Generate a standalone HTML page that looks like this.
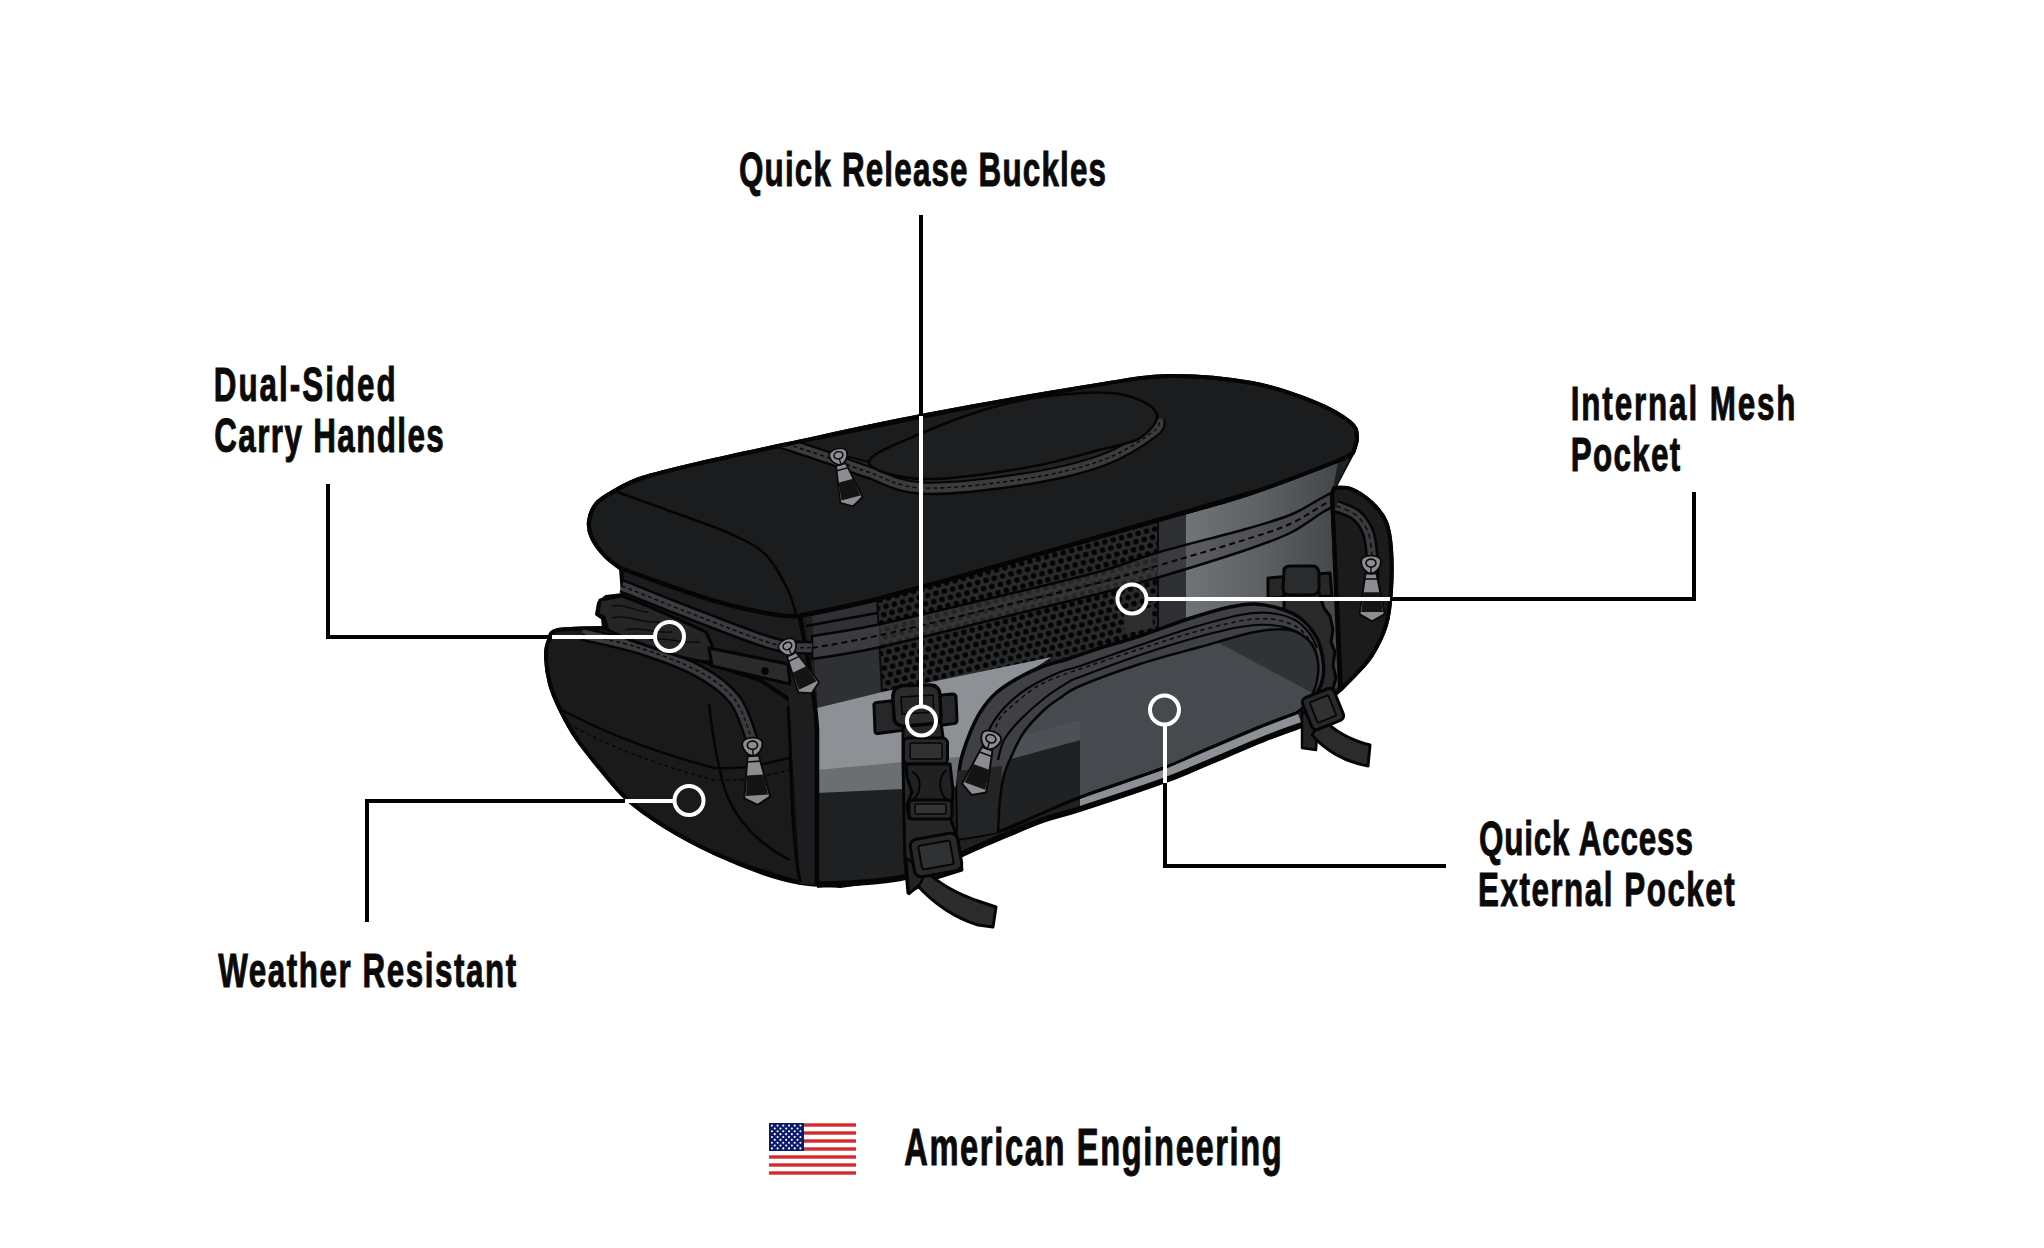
<!DOCTYPE html>
<html><head><meta charset="utf-8">
<style>
html,body{margin:0;padding:0;background:#fff;width:2044px;height:1248px;overflow:hidden}
svg{display:block}
.t{font-family:"Liberation Sans",sans-serif;font-weight:bold;fill:#0a0a0a;stroke:#0a0a0a;stroke-width:1.2px}
</style></head><body>
<svg width="2044" height="1248" viewBox="0 0 2044 1248">
<rect width="2044" height="1248" fill="#fff"/>
<g font-family="Liberation Sans" font-weight="bold" fill="#0a0a0a" stroke="#0a0a0a" stroke-width="1">
<text transform="translate(739.00,185.8) scale(0.64,1)" font-size="49" textLength="573.4" lengthAdjust="spacing">Quick Release Buckles</text>
<text transform="translate(213.80,400.8) scale(0.64,1)" font-size="49" textLength="284.1" lengthAdjust="spacing">Dual-Sided</text>
<text transform="translate(214.30,452.0) scale(0.64,1)" font-size="49" textLength="358.4" lengthAdjust="spacing">Carry Handles</text>
<text transform="translate(1570.70,419.8) scale(0.64,1)" font-size="49" textLength="351.2" lengthAdjust="spacing">Internal Mesh</text>
<text transform="translate(1570.70,470.7) scale(0.64,1)" font-size="49" textLength="171.2" lengthAdjust="spacing">Pocket</text>
<text transform="translate(1479.00,855.0) scale(0.64,1)" font-size="49" textLength="334.1" lengthAdjust="spacing">Quick Access</text>
<text transform="translate(1478.00,905.9) scale(0.64,1)" font-size="49" textLength="401.2" lengthAdjust="spacing">External Pocket</text>
<text transform="translate(218.30,986.9) scale(0.64,1)" font-size="49" textLength="465.3" lengthAdjust="spacing">Weather Resistant</text>
<text transform="translate(904.20,1165.1) scale(0.64,1)" font-size="51" textLength="590.0" lengthAdjust="spacing">American Engineering</text>
</g>
<g id="flag">
<rect x="769" y="1123" width="87" height="52" fill="#fff"/>
<rect x="769" y="1123.30" width="87" height="3.40" fill="#d42b2f"/>
<rect x="769" y="1131.30" width="87" height="3.40" fill="#d42b2f"/>
<rect x="769" y="1139.30" width="87" height="3.40" fill="#d42b2f"/>
<rect x="769" y="1147.30" width="87" height="3.40" fill="#d42b2f"/>
<rect x="769" y="1155.30" width="87" height="3.40" fill="#d42b2f"/>
<rect x="769" y="1163.30" width="87" height="3.40" fill="#d42b2f"/>
<rect x="769" y="1171.30" width="87" height="3.40" fill="#d42b2f"/>
<rect x="769" y="1123" width="35" height="28.00" fill="#0c1a6c"/>
<circle cx="771.90" cy="1125.60" r="1.05" fill="#fff"/>
<circle cx="777.60" cy="1125.60" r="1.05" fill="#fff"/>
<circle cx="783.30" cy="1125.60" r="1.05" fill="#fff"/>
<circle cx="789.00" cy="1125.60" r="1.05" fill="#fff"/>
<circle cx="794.70" cy="1125.60" r="1.05" fill="#fff"/>
<circle cx="800.40" cy="1125.60" r="1.05" fill="#fff"/>
<circle cx="774.75" cy="1128.45" r="1.05" fill="#fff"/>
<circle cx="780.45" cy="1128.45" r="1.05" fill="#fff"/>
<circle cx="786.15" cy="1128.45" r="1.05" fill="#fff"/>
<circle cx="791.85" cy="1128.45" r="1.05" fill="#fff"/>
<circle cx="797.55" cy="1128.45" r="1.05" fill="#fff"/>
<circle cx="771.90" cy="1131.30" r="1.05" fill="#fff"/>
<circle cx="777.60" cy="1131.30" r="1.05" fill="#fff"/>
<circle cx="783.30" cy="1131.30" r="1.05" fill="#fff"/>
<circle cx="789.00" cy="1131.30" r="1.05" fill="#fff"/>
<circle cx="794.70" cy="1131.30" r="1.05" fill="#fff"/>
<circle cx="800.40" cy="1131.30" r="1.05" fill="#fff"/>
<circle cx="774.75" cy="1134.15" r="1.05" fill="#fff"/>
<circle cx="780.45" cy="1134.15" r="1.05" fill="#fff"/>
<circle cx="786.15" cy="1134.15" r="1.05" fill="#fff"/>
<circle cx="791.85" cy="1134.15" r="1.05" fill="#fff"/>
<circle cx="797.55" cy="1134.15" r="1.05" fill="#fff"/>
<circle cx="771.90" cy="1137.00" r="1.05" fill="#fff"/>
<circle cx="777.60" cy="1137.00" r="1.05" fill="#fff"/>
<circle cx="783.30" cy="1137.00" r="1.05" fill="#fff"/>
<circle cx="789.00" cy="1137.00" r="1.05" fill="#fff"/>
<circle cx="794.70" cy="1137.00" r="1.05" fill="#fff"/>
<circle cx="800.40" cy="1137.00" r="1.05" fill="#fff"/>
<circle cx="774.75" cy="1139.85" r="1.05" fill="#fff"/>
<circle cx="780.45" cy="1139.85" r="1.05" fill="#fff"/>
<circle cx="786.15" cy="1139.85" r="1.05" fill="#fff"/>
<circle cx="791.85" cy="1139.85" r="1.05" fill="#fff"/>
<circle cx="797.55" cy="1139.85" r="1.05" fill="#fff"/>
<circle cx="771.90" cy="1142.70" r="1.05" fill="#fff"/>
<circle cx="777.60" cy="1142.70" r="1.05" fill="#fff"/>
<circle cx="783.30" cy="1142.70" r="1.05" fill="#fff"/>
<circle cx="789.00" cy="1142.70" r="1.05" fill="#fff"/>
<circle cx="794.70" cy="1142.70" r="1.05" fill="#fff"/>
<circle cx="800.40" cy="1142.70" r="1.05" fill="#fff"/>
<circle cx="774.75" cy="1145.55" r="1.05" fill="#fff"/>
<circle cx="780.45" cy="1145.55" r="1.05" fill="#fff"/>
<circle cx="786.15" cy="1145.55" r="1.05" fill="#fff"/>
<circle cx="791.85" cy="1145.55" r="1.05" fill="#fff"/>
<circle cx="797.55" cy="1145.55" r="1.05" fill="#fff"/>
<circle cx="771.90" cy="1148.40" r="1.05" fill="#fff"/>
<circle cx="777.60" cy="1148.40" r="1.05" fill="#fff"/>
<circle cx="783.30" cy="1148.40" r="1.05" fill="#fff"/>
<circle cx="789.00" cy="1148.40" r="1.05" fill="#fff"/>
<circle cx="794.70" cy="1148.40" r="1.05" fill="#fff"/>
<circle cx="800.40" cy="1148.40" r="1.05" fill="#fff"/>
</g>
<g id="bag">
<defs>
<pattern id="mesh" x="0" y="0" width="8.6" height="14.9" patternUnits="userSpaceOnUse" patternTransform="translate(880,600) rotate(-14.5)">
<rect width="8.6" height="14.9" fill="#292a2c"/>
<circle cx="0" cy="0" r="2.85" fill="#040404"/><circle cx="8.6" cy="0" r="2.85" fill="#040404"/>
<circle cx="0" cy="14.9" r="2.85" fill="#040404"/><circle cx="8.6" cy="14.9" r="2.85" fill="#040404"/>
<circle cx="4.3" cy="7.45" r="2.85" fill="#040404"/>
</pattern>
<linearGradient id="rgrad" x1="1186" y1="0" x2="1335" y2="0" gradientUnits="userSpaceOnUse">
<stop offset="0" stop-color="#717477"/>
<stop offset="0.5" stop-color="#5e6164"/>
<stop offset="1" stop-color="#45484b"/>
</linearGradient>
<linearGradient id="pgrad" x1="1000" y1="0" x2="1320" y2="0" gradientUnits="userSpaceOnUse">
<stop offset="0" stop-color="#484b4f"/>
<stop offset="1" stop-color="#44474b"/>
</linearGradient>
</defs>
<path d="M621,568 L623,595 L606,597 L599,603 L597,614 L603,618 L604,628 C596.3,628.3 567.2,628.0 558.0,630.0 C548.8,632.0 551.0,635.5 549.0,640.0 C547.0,644.5 545.8,649.7 546.0,657.0 C546.2,664.3 547.7,675.3 550.0,684.0 C552.3,692.7 555.5,699.8 560.0,709.0 C564.5,718.2 570.0,728.7 577.0,739.0 C584.0,749.3 593.7,761.0 602.0,771.0 C610.3,781.0 616.7,789.8 627.0,799.0 C637.3,808.2 649.5,817.0 664.0,826.0 C678.5,835.0 697.5,845.2 714.0,853.0 C730.5,860.8 748.5,868.0 763.0,873.0 C777.5,878.0 788.2,880.8 801.0,883.0 C813.8,885.2 833.5,885.5 840.0,886.0 L905,877 L980,846 L1040,821 L1080,809 L1163,781 L1200,766 L1264,739 L1302,725 L1340,690 C1342.7,687.3 1350.7,679.8 1356.0,674.0 C1361.3,668.2 1367.0,663.2 1372.0,655.0 C1377.0,646.8 1382.8,635.8 1386.0,625.0 C1389.2,614.2 1390.2,602.7 1391.0,590.0 C1391.8,577.3 1391.8,560.3 1391.0,549.0 C1390.2,537.7 1389.2,529.7 1386.0,522.0 C1382.8,514.3 1377.8,508.5 1372.0,503.0 C1366.2,497.5 1357.3,491.5 1351.0,489.0 C1344.7,486.5 1336.8,488.2 1334.0,488.0 L1352,454 Z" fill="#1c1c1e" stroke="#050505" stroke-width="4" stroke-linejoin="round"/>
<path d="M817,690 L817,884 L905,877 L980,846 L1040,821 L1080,809 L1163,781 L1200,766 L1264,739 L1302,725 L1341,686 L1332,494 L1352,455 C1200,505 1000,560 805,613 Z" fill="#1f2022"/>
<path d="M812,612 L1158,518 L1158,625 L1050,656 L882,692 L817,708 Z" fill="#2e3033"/>
<path d="M1158,518 L1186,510 L1186,650 L1158,655 Z" fill="#2e3033"/>
<path d="M1186,510 C1240,496 1300,478 1338,462 L1332,494 L1341,686 L1300,700 L1186,650 Z" fill="url(#rgrad)"/>
<path d="M877,585 L1158,505 L1158,645 L1050,660 L882,692 Z" fill="url(#mesh)"/>
<path d="M877,585 L877,598 L882,692 L1050,660 M1158,505 L1158,645" fill="none" stroke="#0a0a0a" stroke-width="2"/>
<path d="M1124,614 L1152,607 L1153,628 L1125,633 Z" fill="#2c2d2f"/>
<path d="M817,708 L882,692 L1052,657 L1000,690 L968,768 L817,770 Z" fill="#8d9094"/>
<path d="M817,770 L968,756 L966,786 L817,793 Z" fill="#6c6f72"/>
<clipPath id="nomesh"><path d="M0,0 H1186 V1248 H0 Z M877,585 L1158,505 L1158,645 L1050,660 L882,692 Z" clip-rule="evenodd"/></clipPath>
<clipPath id="inmesh"><path d="M877,585 L1158,505 L1158,645 L1050,660 L882,692 Z"/></clipPath>
<clipPath id="rpanel"><rect x="1186" y="0" width="300" height="1248"/></clipPath>
<path d="M812.0,636.0 C822.7,634.2 844.7,631.7 876.0,625.0 C907.3,618.3 963.0,604.8 1000.0,596.0 C1037.0,587.2 1071.4,579.3 1098.0,572.0 C1124.6,564.7 1134.9,559.2 1159.6,552.0 C1184.3,544.8 1224.3,535.2 1246.0,529.0 C1267.7,522.8 1278.0,519.8 1290.0,515.0 C1302.0,510.2 1311.2,503.7 1318.0,500.0 C1324.8,496.3 1328.8,494.2 1331.0,493.0 L1333,507 C1331.3,507.8 1330.2,507.7 1323.0,512.0 C1315.8,516.3 1302.8,526.7 1290.0,533.0 C1277.2,539.3 1267.7,542.7 1246.0,550.0 C1224.3,557.3 1184.3,569.7 1159.6,577.0 C1134.9,584.3 1124.6,587.2 1098.0,594.0 C1071.4,600.8 1037.0,609.0 1000.0,618.0 C963.0,627.0 907.3,641.2 876.0,648.0 C844.7,654.8 822.7,657.2 812.0,659.0 Z" fill="#3a3b3e" clip-path="url(#nomesh)"/>
<path d="M812.0,636.0 C822.7,634.2 844.7,631.7 876.0,625.0 C907.3,618.3 963.0,604.8 1000.0,596.0 C1037.0,587.2 1071.4,579.3 1098.0,572.0 C1124.6,564.7 1134.9,559.2 1159.6,552.0 C1184.3,544.8 1224.3,535.2 1246.0,529.0 C1267.7,522.8 1278.0,519.8 1290.0,515.0 C1302.0,510.2 1311.2,503.7 1318.0,500.0 C1324.8,496.3 1328.8,494.2 1331.0,493.0 L1333,507 C1331.3,507.8 1330.2,507.7 1323.0,512.0 C1315.8,516.3 1302.8,526.7 1290.0,533.0 C1277.2,539.3 1267.7,542.7 1246.0,550.0 C1224.3,557.3 1184.3,569.7 1159.6,577.0 C1134.9,584.3 1124.6,587.2 1098.0,594.0 C1071.4,600.8 1037.0,609.0 1000.0,618.0 C963.0,627.0 907.3,641.2 876.0,648.0 C844.7,654.8 822.7,657.2 812.0,659.0 Z" fill="#3c3d40" fill-opacity="0.6" clip-path="url(#inmesh)"/>
<path d="M812.0,636.0 C822.7,634.2 844.7,631.7 876.0,625.0 C907.3,618.3 963.0,604.8 1000.0,596.0 C1037.0,587.2 1071.4,579.3 1098.0,572.0 C1124.6,564.7 1134.9,559.2 1159.6,552.0 C1184.3,544.8 1224.3,535.2 1246.0,529.0 C1267.7,522.8 1278.0,519.8 1290.0,515.0 C1302.0,510.2 1311.2,503.7 1318.0,500.0 C1324.8,496.3 1328.8,494.2 1331.0,493.0 L1333,507 C1331.3,507.8 1330.2,507.7 1323.0,512.0 C1315.8,516.3 1302.8,526.7 1290.0,533.0 C1277.2,539.3 1267.7,542.7 1246.0,550.0 C1224.3,557.3 1184.3,569.7 1159.6,577.0 C1134.9,584.3 1124.6,587.2 1098.0,594.0 C1071.4,600.8 1037.0,609.0 1000.0,618.0 C963.0,627.0 907.3,641.2 876.0,648.0 C844.7,654.8 822.7,657.2 812.0,659.0 Z" fill="#303134" fill-opacity="0.35" clip-path="url(#rpanel)"/>
<path d="M812.0,636.0 C822.7,634.2 844.7,631.7 876.0,625.0 C907.3,618.3 963.0,604.8 1000.0,596.0 C1037.0,587.2 1071.4,579.3 1098.0,572.0 C1124.6,564.7 1134.9,559.2 1159.6,552.0 C1184.3,544.8 1224.3,535.2 1246.0,529.0 C1267.7,522.8 1278.0,519.8 1290.0,515.0 C1302.0,510.2 1311.2,503.7 1318.0,500.0 C1324.8,496.3 1328.8,494.2 1331.0,493.0 L1333,507 C1331.3,507.8 1330.2,507.7 1323.0,512.0 C1315.8,516.3 1302.8,526.7 1290.0,533.0 C1277.2,539.3 1267.7,542.7 1246.0,550.0 C1224.3,557.3 1184.3,569.7 1159.6,577.0 C1134.9,584.3 1124.6,587.2 1098.0,594.0 C1071.4,600.8 1037.0,609.0 1000.0,618.0 C963.0,627.0 907.3,641.2 876.0,648.0 C844.7,654.8 822.7,657.2 812.0,659.0 Z" fill="none" stroke="#050505" stroke-width="2.5"/>
<path d="M812.0,648.0 C822.7,646.0 844.7,642.9 876.0,636.0 C907.3,629.1 963.0,615.3 1000.0,606.5 C1037.0,597.7 1073.0,589.4 1098.0,583.0 C1123.0,576.6 1125.3,575.3 1150.0,568.0 C1174.7,560.7 1222.7,546.7 1246.0,539.4 C1269.3,532.1 1277.2,529.7 1290.0,524.0 C1302.8,518.3 1316.2,508.8 1323.0,505.0 C1329.8,501.2 1329.7,501.7 1331.0,501.0" fill="none" stroke="#060606" stroke-width="2" stroke-dasharray="6 4"/>
<path d="M806,626 L877,613" stroke="#050505" stroke-width="2.5"/>
<path d="M1332,494 L1334,488 C1336.8,488.2 1344.7,486.5 1351.0,489.0 C1357.3,491.5 1366.2,497.5 1372.0,503.0 C1377.8,508.5 1382.8,514.3 1386.0,522.0 C1389.2,529.7 1390.2,537.7 1391.0,549.0 C1391.8,560.3 1391.8,577.3 1391.0,590.0 C1390.2,602.7 1389.2,614.2 1386.0,625.0 C1382.8,635.8 1377.0,646.8 1372.0,655.0 C1367.0,663.2 1361.3,668.2 1356.0,674.0 C1350.7,679.8 1342.7,687.3 1340.0,690.0 Z" fill="#1b1b1c" stroke="#050505" stroke-width="4" stroke-linejoin="round"/>
<path d="M1336.0,506.0 C1339.3,507.5 1350.7,510.7 1356.0,515.0 C1361.3,519.3 1365.3,525.2 1368.0,532.0 C1370.7,538.8 1371.2,548.0 1372.0,556.0 C1372.8,564.0 1372.8,576.0 1373.0,580.0" fill="none" stroke="#050505" stroke-width="13"/>
<path d="M1336.0,506.0 C1339.3,507.5 1350.7,510.7 1356.0,515.0 C1361.3,519.3 1365.3,525.2 1368.0,532.0 C1370.7,538.8 1371.2,548.0 1372.0,556.0 C1372.8,564.0 1372.8,576.0 1373.0,580.0" fill="none" stroke="#3a3b3e" stroke-width="8"/>
<path d="M1336.0,506.0 C1339.3,507.5 1350.7,510.7 1356.0,515.0 C1361.3,519.3 1365.3,525.2 1368.0,532.0 C1370.7,538.8 1371.2,548.0 1372.0,556.0 C1372.8,564.0 1372.8,576.0 1373.0,580.0" fill="none" stroke="#0c0c0c" stroke-width="1.5" stroke-dasharray="5 4"/>
<path d="M1332,494 L1341,688" stroke="#050505" stroke-width="4"/>
<clipPath id="lpclip"><path d="M790,700 L801,883 C754.8,869.7 730.5,860.8 714.0,853.0 C697.5,845.2 678.5,835.0 664.0,826.0 C649.5,817.0 637.3,808.2 627.0,799.0 C616.7,789.8 610.3,781.0 602.0,771.0 C593.7,761.0 584.0,749.3 577.0,739.0 C570.0,728.7 564.5,718.2 560.0,709.0 C555.5,699.8 552.3,692.7 550.0,684.0 C547.7,675.3 546.2,664.3 546.0,657.0 C545.8,649.7 547.0,644.5 549.0,640.0 C551.0,635.5 548.8,632.0 558.0,630.0 C567.2,628.0 596.3,628.3 604.0,628.0 L700,660 L760,680 Z"/></clipPath>
<path d="M790,700 L801,883 C754.8,869.7 730.5,860.8 714.0,853.0 C697.5,845.2 678.5,835.0 664.0,826.0 C649.5,817.0 637.3,808.2 627.0,799.0 C616.7,789.8 610.3,781.0 602.0,771.0 C593.7,761.0 584.0,749.3 577.0,739.0 C570.0,728.7 564.5,718.2 560.0,709.0 C555.5,699.8 552.3,692.7 550.0,684.0 C547.7,675.3 546.2,664.3 546.0,657.0 C545.8,649.7 547.0,644.5 549.0,640.0 C551.0,635.5 548.8,632.0 558.0,630.0 C567.2,628.0 596.3,628.3 604.0,628.0 L700,660 L760,680 Z" fill="#1a1a1b" stroke="#050505" stroke-width="4" stroke-linejoin="round"/>
<path d="M788,690 L817,690 L817,885 L800,884 Z" fill="#1d1d1f"/>
<path d="M788,706 C792,760 790,830 800,882" fill="none" stroke="#050505" stroke-width="3"/>
<path d="M800,617 C806,650 815,690 817,730 L817,885" fill="none" stroke="#050505" stroke-width="4.5"/>
<path d="M709,704 C712,730 716,760 725,790 C735,820 760,845 790,860" fill="none" stroke="#050505" stroke-width="2.5"/>
<g clip-path="url(#lpclip)">
<path d="M552,705 C600,730 640,748 714,768 C750,770 770,762 790,758" fill="none" stroke="#050505" stroke-width="2.5"/>
<path d="M556,717 C600,742 640,760 714,780 C750,782 770,774 790,770" fill="none" stroke="#050505" stroke-width="1.3" stroke-dasharray="4 3"/>
</g>
<path d="M582.0,634.0 C591.7,636.3 620.3,641.7 640.0,648.0 C659.7,654.3 684.2,663.3 700.0,672.0 C715.8,680.7 726.3,688.7 735.0,700.0 C743.7,711.3 749.2,733.3 752.0,740.0" fill="none" stroke="#050505" stroke-width="14"/>
<path d="M582.0,634.0 C591.7,636.3 620.3,641.7 640.0,648.0 C659.7,654.3 684.2,663.3 700.0,672.0 C715.8,680.7 726.3,688.7 735.0,700.0 C743.7,711.3 749.2,733.3 752.0,740.0" fill="none" stroke="#3a3b3e" stroke-width="9"/>
<path d="M582.0,634.0 C591.7,636.3 620.3,641.7 640.0,648.0 C659.7,654.3 684.2,663.3 700.0,672.0 C715.8,680.7 726.3,688.7 735.0,700.0 C743.7,711.3 749.2,733.3 752.0,740.0" fill="none" stroke="#0a0a0a" stroke-width="1.4" stroke-dasharray="4 3"/>
<path d="M600,600 L622,596 C650,606 680,620 706,632 L712,645 L711,662 C690,662 660,650 630,640 L608,630 L604,617 L598,614 Z" fill="#252527" stroke="#050505" stroke-width="3" stroke-linejoin="round"/>
<path d="M612,606 C625,603 635,612 648,612 M612,618 C630,614 640,624 660,622 M625,630 C640,626 655,634 672,632 M650,640 C665,636 680,644 700,642" fill="none" stroke="#0a0a0a" stroke-width="1.5"/>
<path d="M709,648 L788,664 L790,684 L712,666 Z" fill="#2a2a2c" stroke="#050505" stroke-width="3" stroke-linejoin="round"/>
<circle cx="765" cy="671" r="3.8" fill="#050505"/>
<path d="M622.0,586.0 C635.0,591.2 674.7,607.3 700.0,617.0 C725.3,626.7 755.3,638.8 774.0,644.0 C792.7,649.2 805.7,647.3 812.0,648.0" fill="none" stroke="#050505" stroke-width="14"/>
<path d="M622.0,586.0 C635.0,591.2 674.7,607.3 700.0,617.0 C725.3,626.7 755.3,638.8 774.0,644.0 C792.7,649.2 805.7,647.3 812.0,648.0" fill="none" stroke="#3a3b3e" stroke-width="9"/>
<path d="M622.0,586.0 C635.0,591.2 674.7,607.3 700.0,617.0 C725.3,626.7 755.3,638.8 774.0,644.0 C792.7,649.2 805.7,647.3 812.0,648.0" fill="none" stroke="#0a0a0a" stroke-width="1.4" stroke-dasharray="4 3"/>
<clipPath id="lidclip"><path d="M620.0,568.0 C617.5,566.0 609.7,561.0 605.0,556.0 C600.3,551.0 594.7,543.8 592.0,538.0 C589.3,532.2 588.3,526.7 589.0,521.0 C589.7,515.3 592.3,508.7 596.0,504.0 C599.7,499.3 603.3,497.3 611.0,493.0 C618.7,488.7 626.3,483.2 642.0,478.0 C657.7,472.8 680.7,467.7 705.0,462.0 C729.3,456.3 752.0,451.7 788.0,444.0 C824.0,436.3 871.5,425.5 921.0,416.0 C970.5,406.5 1043.8,393.7 1085.0,387.0 C1126.2,380.3 1140.2,376.7 1168.0,376.0 C1195.8,375.3 1227.7,378.7 1252.0,383.0 C1276.3,387.3 1297.7,395.5 1314.0,402.0 C1330.3,408.5 1342.8,416.2 1350.0,422.0 C1357.2,427.8 1356.5,431.8 1357.0,437.0 C1357.5,442.2 1353.7,450.3 1353.0,453.0 C1350.0,454.5 1352.2,455.2 1335.0,462.0 C1317.8,468.8 1279.3,483.8 1250.0,493.5 C1220.7,503.2 1196.7,509.1 1159.0,520.0 C1121.3,530.9 1070.8,545.4 1024.0,558.6 C977.2,571.8 915.3,589.4 878.0,599.0 C840.7,608.6 813.0,613.2 800.0,616.0 C794.2,616.3 779.2,615.7 765.0,613.0 C750.8,610.3 731.8,605.8 715.0,601.0 C698.2,596.2 679.8,589.5 664.0,584.0 C648.2,578.5 627.3,570.7 620.0,568.0 Z"/></clipPath>
<path d="M620.0,568.0 C617.5,566.0 609.7,561.0 605.0,556.0 C600.3,551.0 594.7,543.8 592.0,538.0 C589.3,532.2 588.3,526.7 589.0,521.0 C589.7,515.3 592.3,508.7 596.0,504.0 C599.7,499.3 603.3,497.3 611.0,493.0 C618.7,488.7 626.3,483.2 642.0,478.0 C657.7,472.8 680.7,467.7 705.0,462.0 C729.3,456.3 752.0,451.7 788.0,444.0 C824.0,436.3 871.5,425.5 921.0,416.0 C970.5,406.5 1043.8,393.7 1085.0,387.0 C1126.2,380.3 1140.2,376.7 1168.0,376.0 C1195.8,375.3 1227.7,378.7 1252.0,383.0 C1276.3,387.3 1297.7,395.5 1314.0,402.0 C1330.3,408.5 1342.8,416.2 1350.0,422.0 C1357.2,427.8 1356.5,431.8 1357.0,437.0 C1357.5,442.2 1353.7,450.3 1353.0,453.0 C1350.0,454.5 1352.2,455.2 1335.0,462.0 C1317.8,468.8 1279.3,483.8 1250.0,493.5 C1220.7,503.2 1196.7,509.1 1159.0,520.0 C1121.3,530.9 1070.8,545.4 1024.0,558.6 C977.2,571.8 915.3,589.4 878.0,599.0 C840.7,608.6 813.0,613.2 800.0,616.0 C794.2,616.3 779.2,615.7 765.0,613.0 C750.8,610.3 731.8,605.8 715.0,601.0 C698.2,596.2 679.8,589.5 664.0,584.0 C648.2,578.5 627.3,570.7 620.0,568.0 Z" fill="#1b1c1e" stroke="#050505" stroke-width="4" stroke-linejoin="round"/>
<g clip-path="url(#lidclip)">
<path d="M617.0,492.0 C627.7,495.8 662.0,508.0 681.0,515.0 C700.0,522.0 717.0,527.5 731.0,534.0 C745.0,540.5 755.7,545.0 765.0,554.0 C774.3,563.0 781.7,577.5 787.0,588.0 C792.3,598.5 795.3,612.2 797.0,617.0" fill="none" stroke="#050505" stroke-width="2.5"/>
<path d="M1250.0,493.5 C1234.8,497.9 1196.7,509.1 1159.0,520.0 C1121.3,530.9 1070.8,545.4 1024.0,558.6 C977.2,571.8 915.3,589.4 878.0,599.0 C840.7,608.6 813.0,613.2 800.0,616.0" fill="none" stroke="#050505" stroke-width="5"/>
<path d="M790.0,443.0 C796.5,444.5 815.8,448.8 829.0,452.0 C842.2,455.2 862.3,460.3 869.0,462.0 C877.8,464.8 896.2,478.0 922.0,479.0 C947.8,480.0 993.8,473.0 1024.0,468.0 C1054.2,463.0 1083.7,454.0 1103.0,449.0 C1122.3,444.0 1131.0,443.7 1140.0,438.0 C1149.0,432.3 1154.2,418.8 1157.0,415.0 L1160,430 C1159.0,431.2 1163.5,431.0 1154.0,437.0 C1144.5,443.0 1124.7,458.0 1103.0,466.0 C1081.3,474.0 1054.2,480.3 1024.0,485.0 C993.8,489.7 948.0,495.2 922.0,494.0 C896.0,492.8 883.5,483.0 868.0,478.0 C852.5,473.0 842.0,468.5 829.0,464.0 C816.0,459.5 796.5,453.2 790.0,451.0 Z" fill="#222325" stroke="#050505" stroke-width="2"/>
<path d="M780.0,442.0 C781.7,442.5 781.8,442.3 790.0,445.0 C798.2,447.7 816.0,453.5 829.0,458.0 C842.0,462.5 852.5,467.0 868.0,472.0 C883.5,477.0 896.0,486.8 922.0,488.0 C948.0,489.2 993.8,483.7 1024.0,479.0 C1054.2,474.3 1081.3,468.0 1103.0,460.0 C1124.7,452.0 1144.8,438.0 1154.0,431.0 C1163.2,424.0 1157.3,420.2 1158.0,418.0" fill="none" stroke="#050505" stroke-width="13"/>
<path d="M780.0,442.0 C781.7,442.5 781.8,442.3 790.0,445.0 C798.2,447.7 816.0,453.5 829.0,458.0 C842.0,462.5 852.5,467.0 868.0,472.0 C883.5,477.0 896.0,486.8 922.0,488.0 C948.0,489.2 993.8,483.7 1024.0,479.0 C1054.2,474.3 1081.3,468.0 1103.0,460.0 C1124.7,452.0 1144.8,438.0 1154.0,431.0 C1163.2,424.0 1157.3,420.2 1158.0,418.0" fill="none" stroke="#3a3b3d" stroke-width="9"/>
<path d="M780.0,442.0 C781.7,442.5 781.8,442.3 790.0,445.0 C798.2,447.7 816.0,453.5 829.0,458.0 C842.0,462.5 852.5,467.0 868.0,472.0 C883.5,477.0 896.0,486.8 922.0,488.0 C948.0,489.2 993.8,483.7 1024.0,479.0 C1054.2,474.3 1081.3,468.0 1103.0,460.0 C1124.7,452.0 1144.8,438.0 1154.0,431.0 C1163.2,424.0 1157.3,420.2 1158.0,418.0" fill="none" stroke="#0a0a0a" stroke-width="1.4" stroke-dasharray="4 3"/>
<path d="M869.0,462.0 C869.0,454.3 899.3,442.7 922.0,433.0 C944.7,423.3 978.2,410.7 1005.0,404.0 C1031.8,397.3 1061.8,394.2 1083.0,393.0 C1104.2,391.8 1119.7,393.3 1132.0,397.0 C1144.3,400.7 1155.7,408.2 1157.0,415.0 C1158.3,421.8 1149.0,432.3 1140.0,438.0 C1131.0,443.7 1122.3,444.0 1103.0,449.0 C1083.7,454.0 1054.2,463.0 1024.0,468.0 C993.8,473.0 947.8,480.0 922.0,479.0 C896.2,478.0 869.0,469.7 869.0,462.0 Z" fill="#1d1e20" stroke="#050505" stroke-width="2.5"/>
<path d="M817.0,439.0 C841.8,434.0 922.2,417.8 966.0,409.0 C1009.8,400.2 1054.3,390.7 1080.0,386.0 C1105.7,381.3 1113.3,381.8 1120.0,381.0" fill="none" stroke="#050505" stroke-width="2"/>
</g>
<path d="M620.0,568.0 C617.5,566.0 609.7,561.0 605.0,556.0 C600.3,551.0 594.7,543.8 592.0,538.0 C589.3,532.2 588.3,526.7 589.0,521.0 C589.7,515.3 592.3,508.7 596.0,504.0 C599.7,499.3 603.3,497.3 611.0,493.0 C618.7,488.7 626.3,483.2 642.0,478.0 C657.7,472.8 680.7,467.7 705.0,462.0 C729.3,456.3 752.0,451.7 788.0,444.0 C824.0,436.3 871.5,425.5 921.0,416.0 C970.5,406.5 1043.8,393.7 1085.0,387.0 C1126.2,380.3 1140.2,376.7 1168.0,376.0 C1195.8,375.3 1227.7,378.7 1252.0,383.0 C1276.3,387.3 1297.7,395.5 1314.0,402.0 C1330.3,408.5 1342.8,416.2 1350.0,422.0 C1357.2,427.8 1356.5,431.8 1357.0,437.0 C1357.5,442.2 1353.7,450.3 1353.0,453.0 C1350.0,454.5 1352.2,455.2 1335.0,462.0 C1317.8,468.8 1279.3,483.8 1250.0,493.5 C1220.7,503.2 1196.7,509.1 1159.0,520.0 C1121.3,530.9 1070.8,545.4 1024.0,558.6 C977.2,571.8 915.3,589.4 878.0,599.0 C840.7,608.6 813.0,613.2 800.0,616.0 C794.2,616.3 779.2,615.7 765.0,613.0 C750.8,610.3 731.8,605.8 715.0,601.0 C698.2,596.2 679.8,589.5 664.0,584.0 C648.2,578.5 627.3,570.7 620.0,568.0 Z" fill="none" stroke="#050505" stroke-width="4" stroke-linejoin="round"/>
<path d="M1268,578 L1330,573 L1332,596 L1268,598 Z" fill="#262729" stroke="#050505" stroke-width="3" stroke-linejoin="round"/>
<path d="M1284,590 L1318,590 L1324,608 L1330,616 L1333,630 L1331,642 L1335,652 L1333,665 L1336,678 L1332,692 L1300,700 L1290,640 L1284,610 Z" fill="#28292b" stroke="#050505" stroke-width="3" stroke-linejoin="round"/>
<path d="M1284,572 C1283,567 1287,566 1292,566 L1312,566 C1317,566 1319,569 1319,574 L1319,588 C1319,593 1315,595 1310,595 L1290,595 C1285,595 1283,592 1283,588 Z" fill="#2a2b2d" stroke="#050505" stroke-width="3"/>
<path d="M957.0,792.0 C957.7,786.7 958.8,769.8 961.0,760.0 C963.2,750.2 966.7,741.2 970.0,733.0 C973.3,724.8 976.7,717.7 981.0,711.0 C985.3,704.3 989.5,698.7 996.0,693.0 C1002.5,687.3 1012.0,681.5 1020.0,677.0 C1028.0,672.5 1036.0,669.0 1044.0,666.0 C1052.0,663.0 1058.7,662.0 1068.0,659.0 C1077.3,656.0 1088.0,651.8 1100.0,648.0 C1112.0,644.2 1124.8,641.0 1140.0,636.0 C1155.2,631.0 1176.0,622.8 1191.0,618.0 C1206.0,613.2 1219.3,609.3 1230.0,607.0 C1240.7,604.7 1246.5,603.7 1255.0,604.0 C1263.5,604.3 1273.5,606.7 1281.0,609.0 C1288.5,611.3 1294.0,613.2 1300.0,618.0 C1306.0,622.8 1313.2,631.0 1317.0,638.0 C1320.8,645.0 1322.0,653.5 1323.0,660.0 C1324.0,666.5 1324.0,671.5 1323.0,677.0 C1322.0,682.5 1319.7,688.7 1317.0,693.0 C1314.3,697.3 1310.5,699.7 1307.0,703.0 C1303.5,706.3 1297.8,711.3 1296.0,713.0 C1290.7,715.0 1280.0,718.5 1264.0,725.0 C1248.0,731.5 1216.8,744.8 1200.0,752.0 C1183.2,759.2 1183.0,760.5 1163.0,768.0 C1143.0,775.5 1100.5,789.3 1080.0,797.0 C1059.5,804.7 1053.3,808.3 1040.0,814.0 C1026.7,819.7 1013.7,826.8 1000.0,831.0 C986.3,835.2 965.0,837.7 958.0,839.0 Z" fill="#3e4043" stroke="#050505" stroke-width="3.5" stroke-linejoin="round"/>
<path d="M957,771 L1002,766 L1000,832 L958,839 Z" fill="#232426"/>
<path d="M978.0,770.0 C978.3,768.3 978.3,766.3 980.0,760.0 C981.7,753.7 984.0,740.7 988.0,732.0 C992.0,723.3 997.3,715.3 1004.0,708.0 C1010.7,700.7 1018.7,694.0 1028.0,688.0 C1037.3,682.0 1051.3,675.7 1060.0,672.0 C1068.7,668.3 1066.7,670.5 1080.0,666.0 C1093.3,661.5 1121.5,651.3 1140.0,645.0 C1158.5,638.7 1174.3,633.0 1191.0,628.0 C1207.7,623.0 1226.8,617.5 1240.0,615.0 C1253.2,612.5 1260.8,612.2 1270.0,613.0 C1279.2,613.8 1288.3,616.5 1295.0,620.0 C1301.7,623.5 1306.3,629.3 1310.0,634.0 C1313.7,638.7 1315.8,645.7 1317.0,648.0" fill="none" stroke="#050505" stroke-width="2.2"/>
<path d="M998.0,760.0 C999.0,756.7 1000.3,746.7 1004.0,740.0 C1007.7,733.3 1013.3,726.9 1020.0,720.0 C1026.7,713.1 1036.0,704.8 1044.0,698.5 C1052.0,692.2 1062.0,686.0 1068.0,682.4 C1074.0,678.8 1068.0,681.6 1080.0,677.0 C1092.0,672.4 1121.5,661.3 1140.0,655.0 C1158.5,648.7 1174.3,643.7 1191.0,639.0 C1207.7,634.3 1226.8,629.3 1240.0,627.0 C1253.2,624.7 1260.8,624.3 1270.0,625.0 C1279.2,625.7 1288.3,627.7 1295.0,631.0 C1301.7,634.3 1306.5,640.8 1310.0,645.0 C1313.5,649.2 1315.0,654.2 1316.0,656.0" fill="none" stroke="#050505" stroke-width="2.2"/>
<path d="M993.0,735.0 C994.2,732.2 996.8,722.8 1000.0,718.0 C1003.2,713.2 1006.0,711.2 1012.0,706.0 C1018.0,700.8 1028.0,692.0 1036.0,687.0 C1044.0,682.0 1052.7,679.0 1060.0,676.0 C1067.3,673.0 1066.7,673.5 1080.0,669.0 C1093.3,664.5 1121.5,655.0 1140.0,649.0 C1158.5,643.0 1174.3,637.7 1191.0,633.0 C1207.7,628.3 1226.8,623.3 1240.0,621.0 C1253.2,618.7 1260.8,618.2 1270.0,619.0 C1279.2,619.8 1288.3,622.5 1295.0,626.0 C1301.7,629.5 1306.3,635.3 1310.0,640.0 C1313.7,644.7 1315.8,651.7 1317.0,654.0" fill="none" stroke="#0a0a0a" stroke-width="1.5" stroke-dasharray="4.5 3.5"/>
<clipPath id="pclip"><path d="M998.0,832.0 C998.3,826.7 999.0,809.5 1000.0,800.0 C1001.0,790.5 1002.0,782.5 1004.0,775.0 C1006.0,767.5 1008.7,762.2 1012.0,755.0 C1015.3,747.8 1018.7,739.5 1024.0,732.0 C1029.3,724.5 1038.0,715.7 1044.0,710.0 C1050.0,704.3 1054.0,702.0 1060.0,698.0 C1066.0,694.0 1066.7,691.7 1080.0,686.0 C1093.3,680.3 1120.0,670.5 1140.0,664.0 C1160.0,657.5 1180.8,652.3 1200.0,647.0 C1219.2,641.7 1240.0,634.8 1255.0,632.0 C1270.0,629.2 1280.8,628.3 1290.0,630.0 C1299.2,631.7 1305.3,636.7 1310.0,642.0 C1314.7,647.3 1317.0,654.8 1318.0,662.0 C1319.0,669.2 1317.8,678.2 1316.0,685.0 C1314.2,691.8 1310.3,698.3 1307.0,703.0 C1303.7,707.7 1297.8,711.3 1296.0,713.0 C1290.7,715.0 1280.0,718.5 1264.0,725.0 C1248.0,731.5 1216.8,744.8 1200.0,752.0 C1183.2,759.2 1183.0,760.5 1163.0,768.0 C1143.0,775.5 1100.5,789.3 1080.0,797.0 C1059.5,804.7 1053.3,808.3 1040.0,814.0 C1026.7,819.7 1006.7,828.2 1000.0,831.0 Z"/></clipPath>
<path d="M998.0,832.0 C998.3,826.7 999.0,809.5 1000.0,800.0 C1001.0,790.5 1002.0,782.5 1004.0,775.0 C1006.0,767.5 1008.7,762.2 1012.0,755.0 C1015.3,747.8 1018.7,739.5 1024.0,732.0 C1029.3,724.5 1038.0,715.7 1044.0,710.0 C1050.0,704.3 1054.0,702.0 1060.0,698.0 C1066.0,694.0 1066.7,691.7 1080.0,686.0 C1093.3,680.3 1120.0,670.5 1140.0,664.0 C1160.0,657.5 1180.8,652.3 1200.0,647.0 C1219.2,641.7 1240.0,634.8 1255.0,632.0 C1270.0,629.2 1280.8,628.3 1290.0,630.0 C1299.2,631.7 1305.3,636.7 1310.0,642.0 C1314.7,647.3 1317.0,654.8 1318.0,662.0 C1319.0,669.2 1317.8,678.2 1316.0,685.0 C1314.2,691.8 1310.3,698.3 1307.0,703.0 C1303.7,707.7 1297.8,711.3 1296.0,713.0 C1290.7,715.0 1280.0,718.5 1264.0,725.0 C1248.0,731.5 1216.8,744.8 1200.0,752.0 C1183.2,759.2 1183.0,760.5 1163.0,768.0 C1143.0,775.5 1100.5,789.3 1080.0,797.0 C1059.5,804.7 1053.3,808.3 1040.0,814.0 C1026.7,819.7 1006.7,828.2 1000.0,831.0 Z" fill="#46494d"/>
<g clip-path="url(#pclip)">
<path d="M1219,643 L1320,697 L1330,600 L1200,600 Z" fill="#303336"/>
<path d="M1000,762 L1080,740 L1080,800 L995,840 Z" fill="#1f2123"/>
<path d="M1000,742 L1080,720 L1080,740 L1000,762 Z" fill="#4d5054"/>
</g>
<path d="M998.0,832.0 C998.3,826.7 999.0,809.5 1000.0,800.0 C1001.0,790.5 1002.0,782.5 1004.0,775.0 C1006.0,767.5 1008.7,762.2 1012.0,755.0 C1015.3,747.8 1018.7,739.5 1024.0,732.0 C1029.3,724.5 1038.0,715.7 1044.0,710.0 C1050.0,704.3 1054.0,702.0 1060.0,698.0 C1066.0,694.0 1066.7,691.7 1080.0,686.0 C1093.3,680.3 1120.0,670.5 1140.0,664.0 C1160.0,657.5 1180.8,652.3 1200.0,647.0 C1219.2,641.7 1240.0,634.8 1255.0,632.0 C1270.0,629.2 1280.8,628.3 1290.0,630.0 C1299.2,631.7 1305.3,636.7 1310.0,642.0 C1314.7,647.3 1317.0,654.8 1318.0,662.0 C1319.0,669.2 1317.8,678.2 1316.0,685.0 C1314.2,691.8 1310.3,698.3 1307.0,703.0 C1303.7,707.7 1297.8,711.3 1296.0,713.0 C1290.7,715.0 1280.0,718.5 1264.0,725.0 C1248.0,731.5 1216.8,744.8 1200.0,752.0 C1183.2,759.2 1183.0,760.5 1163.0,768.0 C1143.0,775.5 1100.5,789.3 1080.0,797.0 C1059.5,804.7 1053.3,808.3 1040.0,814.0 C1026.7,819.7 1006.7,828.2 1000.0,831.0 Z" fill="none" stroke="#050505" stroke-width="2.5"/>
<path d="M1080,799 L1163,770 L1200,754 L1264,727 L1298,714 L1302,724 L1264,738 L1200,765 L1163,781 L1080,808 Z" fill="#8d9094"/>
<path d="M1080.0,797.0 C1093.8,792.2 1143.0,775.5 1163.0,768.0 C1183.0,760.5 1183.2,759.2 1200.0,752.0 C1216.8,744.8 1248.0,731.5 1264.0,725.0 C1280.0,718.5 1290.7,715.0 1296.0,713.0" fill="none" stroke="#050505" stroke-width="2.5"/>
<path d="M817.0,885.0 C831.7,883.7 877.8,883.5 905.0,877.0 C932.2,870.5 957.5,855.3 980.0,846.0 C1002.5,836.7 1023.3,827.2 1040.0,821.0 C1056.7,814.8 1059.5,815.7 1080.0,809.0 C1100.5,802.3 1143.0,788.2 1163.0,781.0 C1183.0,773.8 1183.2,773.0 1200.0,766.0 C1216.8,759.0 1247.0,745.8 1264.0,739.0 C1281.0,732.2 1295.7,727.3 1302.0,725.0" fill="none" stroke="#050505" stroke-width="6" stroke-linejoin="round"/>
<path d="M874,706 Q873,703 877,702.5 L952,694 Q956,694 956,697 L957,720 Q957,723 954,723.5 L878,733.5 Q875,734 875,731 Z" fill="#262729" stroke="#050505" stroke-width="3" stroke-linejoin="round"/>
<path d="M903,700 L938,700 L946,760 L951,820 L958,840 L962,870 L930,880 L908,893 L905,860 L904,820 L903,760 Z" fill="#252628" stroke="#050505" stroke-width="3" stroke-linejoin="round"/>
<path d="M925,870 C940,885 960,895 981,902 L996,907 L993,927 L978,925 C955,918 935,905 916,884 Z" fill="#2a2b2d" stroke="#050505" stroke-width="3" stroke-linejoin="round"/>
<path d="M906,858 L926,872 L920,884 L909,894 Z" fill="#222325" stroke="#050505" stroke-width="2.5" stroke-linejoin="round"/>
<path d="M893,700 C892,690 896,686 905,685.5 L930,685 C937,685 940,690 940,697 L941,716 C941,722 936,724 930,724 L904,726 C897,726 894,722 894,716 Z" fill="#2a2b2d" stroke="#050505" stroke-width="3.5"/>
<path d="M901,697 L933,695 L934,712 L902,714 Z" fill="#262729" stroke="#050505" stroke-width="1.5"/>
<rect x="903.5" y="738" width="44" height="26" rx="5" fill="#28292b" stroke="#050505" stroke-width="3"/>
<rect x="910" y="743" width="32" height="16" rx="2" fill="#303133" stroke="#050505" stroke-width="1.5"/>
<path d="M906,764 L950,764 L953,790 L951,818 L909,818 L907,805 L912,792 L907,777 Z" fill="#202123" stroke="#050505" stroke-width="3" stroke-linejoin="round"/>
<path d="M912,772 C922,776 922,792 913,800 M946,770 C938,778 938,792 947,800" fill="none" stroke="#050505" stroke-width="2"/>
<rect x="909" y="800" width="43" height="19" rx="4" fill="#28292b" stroke="#050505" stroke-width="3"/>
<rect x="915" y="804" width="31" height="10" rx="1.5" fill="#333436" stroke="#050505" stroke-width="1.5"/>
<g transform="translate(936,855) rotate(-10)"><rect x="-24" y="-19" width="48" height="38" rx="7" fill="#28292b" stroke="#050505" stroke-width="3"/><rect x="-16" y="-12" width="32" height="24" rx="2" fill="#303133" stroke="#050505" stroke-width="2"/></g>
<path d="M1302,712 L1318,716 L1316,750 L1302,748 Z" fill="#222325" stroke="#050505" stroke-width="2.5" stroke-linejoin="round"/>
<path d="M1322,718 C1335,732 1350,740 1370,745 L1368,766 C1345,762 1325,750 1312,735 Z" fill="#2a2b2d" stroke="#050505" stroke-width="3" stroke-linejoin="round"/>
<g transform="translate(1323,709) rotate(-22)"><rect x="-17" y="-17" width="34" height="34" rx="5" fill="#28292b" stroke="#050505" stroke-width="3"/><rect x="-10" y="-11" width="20" height="22" rx="1.5" fill="#303133" stroke="#050505" stroke-width="1.8"/></g>
<defs>
<g id="zp">
<path d="M-5,15 L5,15 L12.5,52 L1,58.5 L-10.5,52 Z" fill="#8c8d90" stroke="#0a0a0a" stroke-width="1.8" stroke-linejoin="round"/>
<path d="M-7,32 L8,32 L10.8,50 L-8.8,50 Z" fill="#141415"/>
<path d="M-5.5,20 L5.5,20" stroke="#0a0a0a" stroke-width="1.4"/>
<path d="M-9,4 C-9,-3 9,-3 9,4 C9,10 4,15 0,15 C-4,15 -9,10 -9,4 Z" fill="#8c8d90" stroke="#0a0a0a" stroke-width="1.6" stroke-linejoin="round"/>
<ellipse cx="0" cy="5.5" rx="4.5" ry="3.6" fill="none" stroke="#0a0a0a" stroke-width="1.5"/>
<path d="M0,9 L0,16" stroke="#0a0a0a" stroke-width="1.3"/>
</g>
</defs>
<use href="#zp" transform="translate(837,450) rotate(-15) scale(1.0)"/>
<use href="#zp" transform="translate(785,641) rotate(-26) scale(1.0)"/>
<use href="#zp" transform="translate(752,739) rotate(-4) scale(1.13)"/>
<use href="#zp" transform="translate(1371,557) rotate(0) scale(1.1)"/>
<use href="#zp" transform="translate(993,733) rotate(20) scale(1.12)"/>

</g>
<g fill="none" stroke-width="4" stroke-linecap="butt">
<path d="M921 215 V416" stroke="#000"/>
<path d="M921 416 V707" stroke="#fff"/>
<path d="M328 484 V637 H552" stroke="#000"/>
<path d="M552 637 H655" stroke="#fff"/>
<path d="M1694 492 V599 H1390" stroke="#000"/>
<path d="M1390 599 H1147" stroke="#fff"/>
<path d="M1446 866 H1165 V783" stroke="#000"/>
<path d="M1165 783 V725" stroke="#fff"/>
<path d="M367 922 V801 H625" stroke="#000"/>
<path d="M625 801 H674" stroke="#fff"/>
</g>
<g fill="none" stroke="#fff" stroke-width="4">
<circle cx="921.5" cy="721" r="14.5"/>
<circle cx="669.5" cy="636.5" r="14.5"/>
<circle cx="1132" cy="599" r="14.5"/>
<circle cx="1164.5" cy="710" r="14.5"/>
<circle cx="689" cy="800.5" r="14.5"/>
</g>

</svg>
</body></html>
